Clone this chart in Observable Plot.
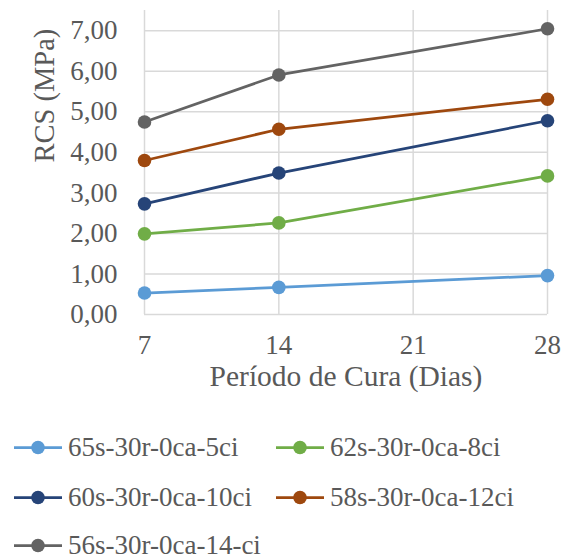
<!DOCTYPE html>
<html><head><meta charset="utf-8">
<script src="https://cdn.jsdelivr.net/npm/d3@7"></script>
<script src="https://cdn.jsdelivr.net/npm/@observablehq/plot@0.6"></script>
<style>
body{margin:0;background:#fff;font-family:"Liberation Serif","Times New Roman",serif;color:#595959}
#chart svg{display:block}
#legend{position:relative;width:571px;height:138px}
.item{position:absolute;display:flex;align-items:center;font-size:27px;line-height:1;white-space:nowrap;transform:translateY(-50%)}
.item svg{margin-right:6px;display:block}
</style></head><body><div id="chart"></div><div id="legend"></div>
<script>
const days = [7, 14, 28];
const seriesNames = ["65s-30r-0ca-5ci","62s-30r-0ca-8ci","60s-30r-0ca-10ci","58s-30r-0ca-12ci","56s-30r-0ca-14-ci"];
const s65 = [0.53, 0.67, 0.96];
const s62 = [1.99, 2.26, 3.42];
const s60 = [2.73, 3.49, 4.78];
const s58 = [3.80, 4.57, 5.31];
const s56 = [4.75, 5.91, 7.05];
const colors = ["#5B9BD5","#70AD47","#264478","#9E480E","#636363"];
const xTicks = [7, 14, 21, 28];
const yTicks = [0, 1, 2, 3, 4, 5, 6, 7];
const xLabel = "Período de Cura (Dias)";
const yLabel = "RCS (MPa)";

const values = [s65, s62, s60, s58, s56];
const data = seriesNames.flatMap((name, i) => days.map((d, j) => ({name, day: d, value: values[i][j]})));

const chart = Plot.plot({
  width: 571, height: 420,
  marginLeft: 144, marginRight: 24, marginTop: 10, marginBottom: 106,
  x: {domain: [7, 28]},
  y: {domain: [0, 7.5]},
  color: {domain: seriesNames, range: colors},
  style: {fontFamily: "'Liberation Serif', 'Times New Roman', serif", fontSize: "27px", color: "#595959", background: "white", overflow: "visible"},
  marks: [
    Plot.gridX(xTicks, {stroke: "#d9d9d9", strokeOpacity: 1, strokeWidth: 1.5}),
    Plot.gridY(yTicks, {stroke: "#d9d9d9", strokeOpacity: 1, strokeWidth: 1.5}),
    Plot.axisX(xTicks, {tickSize: 0, tickPadding: 20, label: null, tickFormat: d => String(d), fontSize: 27, fill: "#595959"}),
    Plot.axisY(yTicks, {tickSize: 0, tickPadding: 27, label: null, tickFormat: d => d.toFixed(2).replace(".", ","), fontSize: 27, fill: "#595959"}),
    Plot.text([xLabel], {frameAnchor: "bottom", dy: 71, fontSize: 29.5, fill: "#595959"}),
    Plot.text([yLabel], {frameAnchor: "left", dx: -100, rotate: -90, fontSize: 28.5, fill: "#595959"}),
    Plot.line(data, {x: "day", y: "value", z: "name", stroke: "name", strokeWidth: 2.75}),
    Plot.dot(data, {x: "day", y: "value", fill: "name", r: 6.8})
  ]
});
document.getElementById("chart").append(chart);

const legend = document.getElementById("legend");
const cols = [14, 276];
const rows = [27, 77, 125];
seriesNames.forEach((name, i) => {
  const div = document.createElement("div");
  div.className = "item";
  div.style.left = cols[i % 2] + "px";
  div.style.top = rows[Math.floor(i / 2)] + "px";
  div.innerHTML = `<svg width="48" height="20"><line x1="0" x2="48" y1="10" y2="10" stroke="${colors[i]}" stroke-width="2.75"/><circle cx="24" cy="10" r="6.8" fill="${colors[i]}"/></svg><span>${name}</span>`;
  legend.append(div);
});
</script>
</body></html>
